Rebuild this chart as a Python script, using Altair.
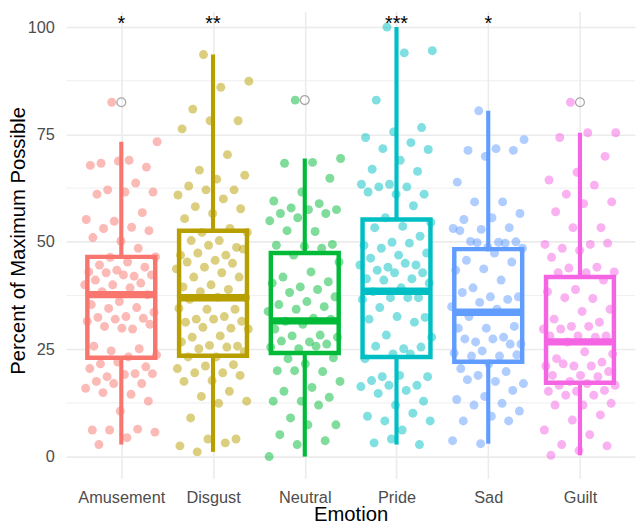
import altair as alt
import pandas as pd

emotions = ["Amusement", "Disgust", "Neutral", "Pride", "Sad", "Guilt"]
colors = ["#F8766D", "#B79F00", "#00BA38", "#00BFC4", "#619CFF", "#F564E3"]

# box-plot summaries
q1 = [23.0, 23.5, 24.1, 23.2, 22.1, 17.2]
median = [37.7, 37.0, 31.6, 38.5, 33.6, 26.7]
q3 = [46.5, 52.6, 47.4, 55.2, 48.3, 41.8]
whisker_lo = [2.8, 1.1, 0.0, 2.8, 3.0, 0.3]
whisker_hi = [73.3, 93.6, 69.4, 100.0, 80.5, 75.4]
outliers = [82.5, None, 83.0, None, None, 82.5]
stars = ["*", "**", "", "***", "*", ""]
minor_breaks = [12.5, 37.5, 62.5, 87.5]
major_breaks = [0, 25, 50, 75, 100]

amusement = [82.5, 73.3, 69, 68.3, 67.4, 68.8, 67.8, 63.7, 62.1, 61.6, 61.6, 61.1, 56.8, 54.8, 55.2, 53.4,
             53.1, 52.6, 50.2, 51, 48.5, 46.4, 46.5, 45.3, 44.6, 44.1, 43.4, 43, 42, 42.8, 42.3, 42.3, 41.1,
             40.4, 40, 40, 39.3, 38.4, 37.7, 36.1, 35.4, 34.7, 34.5, 33.6, 32.6, 32.4, 32.2, 32, 31.5, 29.7,
             30.3, 30.8, 29.9, 25.7, 25.1, 24.6, 23.7, 23.2, 21.6, 20.9, 22, 20.5, 19.3, 18.6, 19.3, 19.1,
             17.5, 17, 17, 15.9, 14.5, 14.9, 12.9, 10.6, 6.2, 6.4, 6.2, 5.7, 4.4, 2.8]
disgust = [93.6, 87.4, 86, 80.9, 78.2, 78.2, 76.3, 70.3, 66.7, 65.5, 64.6, 63, 62.1, 62.1, 60.9, 60, 58.2,
           57.7, 56.6, 55.4, 53.1, 52.2, 52.2, 50.3, 50.3, 48.7, 49.2, 46.9, 46.9, 47.4, 48.3, 45.7, 45.3, 45,
           44.1, 43.7, 42.8, 41.8, 41.8, 40, 39.5, 38.9, 38.4, 37, 37.1, 36.6, 34.3, 34.3, 34.5, 32.6, 32,
           31.5, 32, 31.3, 29.9, 30.1, 29.7, 28.1, 27.8, 25.7, 25.9, 26.7, 25.5, 25.1, 24.4, 23.2, 23.2, 21.4,
           21.1, 20.5, 19.5, 19.5, 18.9, 17.7, 17.5, 15.2, 14, 12.9, 12.4, 9, 4.1, 4.1, 2.5, 3.2, 1.1]
neutral = [83, 69.4, 68.5, 68.3, 64.8, 61.6, 59.5, 58.9, 57.9, 57.5, 57.5, 56.6, 56.6, 55.6, 54.9, 52.4, 52.6,
           49.4, 49, 49.2, 48.5, 46.9, 45.3, 43, 41.8, 40.7, 39.5, 40.4, 38.9, 38.2, 37.2, 36.1, 35.4, 34.9,
           34.3, 33.8, 32.2, 31.5, 32, 30.8, 29.7, 28.3, 28.1, 27.8, 26.7, 26.9, 26.2, 25.1, 25.5, 25.7, 22.8,
           23, 21.6, 20, 19.8, 20, 17.5, 16.1, 15.2, 13.8, 12.9, 12.9, 12, 9, 7.4, 7.4, 5.1, 3.7, 2.8, 0]
pride = [100, 94.5, 94, 83, 76.6, 75.6, 74.3, 73.1, 71.7, 71.5, 69, 66.9, 66.4, 63.4, 63.4, 62.8, 62.8, 61.1,
         61.1, 61.6, 58.4, 55.6, 54.5, 53.6, 53.3, 51.3, 49.9, 49.2, 49.7, 48.5, 47.4, 46.9, 46.2, 44.6, 44.1,
         44.6, 45, 43.4, 42.8, 42.8, 41.4, 41.4, 41.1, 40.4, 39.3, 38.4, 37, 37, 36.6, 37, 34.7, 32.4, 32.6,
         32, 31.3, 28.3, 27.8, 25.1, 25.7, 25.5, 23.9, 22.8, 23.9, 18.6, 18.6, 18.9, 17.7, 16.6, 16.6, 16.3,
         15.4, 14.7, 12.9, 12, 9.4, 10.1, 8.3, 8.3, 6.2, 3.2, 2.8, 4.1]
sad = [80.5, 73.8, 71.7, 71.3, 71.3, 69.9, 63.9, 59.3, 59.3, 56.6, 55.6, 55.2, 53.3, 52.9, 53.1, 49.9, 50.1,
       50, 48.7, 52.6, 49.7, 49.8, 48.5, 47.4, 45.7, 45.3, 43.7, 43.4, 41.1, 39.3, 37.2, 37.2, 38.2, 36.6,
       35.9, 34.9, 34.3, 32.6, 30.3, 29.9, 29.9, 27.8, 26.7, 26.2, 27.4, 27.4, 26.2, 24.6, 24.1, 23.4, 23.4,
       23.7, 21.6, 20.5, 19.8, 18.9, 17, 17.5, 17.9, 15.4, 14, 13.3, 12.4, 12, 10.6, 9.4, 8.3, 8.3, 3, 3.7]
guilt = [82.5, 75.4, 75.4, 74.3, 69.9, 66.2, 64.4, 63.2, 61.1, 59.3, 58.9, 57, 53.3, 53.3, 49.4, 49.4, 48.5,
         49.7, 48, 46.4, 44.1, 43.9, 43, 42.8, 42.8, 41.1, 38.9, 38.4, 36.8, 37, 34.3, 33.8, 32, 31.3, 30.3,
         29.7, 30.3, 29.7, 28.1, 28.1, 28.1, 27.8, 26.7, 23.9, 24.4, 22.8, 22, 21.1, 21.1, 21.1, 21.6, 19.8,
         18.9, 18.9, 18.6, 17.5, 16.6, 17, 16.6, 15.4, 15.2, 15.2, 14.3, 14.3, 12.4, 12, 12, 9.7, 8.5, 6.2,
         5.1, 2.8, 2.5, 1.4, 0.3]

groups = [amusement, disgust, neutral, pride, sad, guilt]

# ---- tables built from the arrays ----
summary = pd.DataFrame({
    "emotion": emotions, "pos": list(range(1, 7)),
    "q1": q1, "med": median, "q3": q3, "lo": whisker_lo, "hi": whisker_hi, "star": stars,
})
rows = []
for k, (name, vals) in enumerate(zip(emotions, groups)):
    for i, v in enumerate(vals):
        rows.append({"emotion": name, "pos": k + 1, "value": v, "idx": i})
points = pd.DataFrame(rows)
out_df = pd.DataFrame([{"emotion": e, "pos": k + 1, "value": o}
                       for k, (e, o) in enumerate(zip(emotions, outliers)) if o is not None])
minor_df = pd.DataFrame({"v": minor_breaks})

FONT = "Liberation Sans"
label_expr = "[" + ",".join("'%s'" % e for e in emotions) + "][datum.value - 1]"

xscale = alt.Scale(domain=[0.4, 6.6], nice=False, zero=False)
yscale = alt.Scale(domain=[-5.06, 103.68], nice=False, zero=False)
cscale = alt.Scale(domain=emotions, range=colors)

xaxis = alt.Axis(values=[1, 2, 3, 4, 5, 6], labelExpr=label_expr, grid=True, gridColor="#EBEBEB",
                 gridWidth=1.6, domain=False, ticks=False, tickSize=0, labelFontSize=16.5,
                 labelColor="#4D4D4D", labelFont=FONT, labelBaseline="alphabetic", labelPadding=24,
                 titleFont=FONT, titleFontSize=20.5, titleFontWeight="normal", titleColor="#000000",
                 titleBaseline="alphabetic", titleY=43)
yaxis = alt.Axis(values=major_breaks, grid=True, gridColor="#EBEBEB", gridWidth=1.6, domain=False,
                 ticks=False, tickSize=0, labelFontSize=16.5, labelColor="#4D4D4D", labelFont=FONT,
                 labelPadding=12, labelBaseline="middle",
                 titleFont=FONT, titleFontSize=20.5, titleFontWeight="normal", titleColor="#000000",
                 titleBaseline="alphabetic", titleX=-42, titleY=232, titleAngle=270)


def X(field):
    return alt.X(field, type="quantitative", scale=xscale, axis=xaxis, title="Emotion")


def Y(field):
    return alt.Y(field, type="quantitative", scale=yscale, axis=yaxis, title="Percent of Maximum Possible")


col = alt.Color("emotion:N", scale=cscale, legend=None)

minor = alt.Chart(minor_df).mark_rule(color="#EBEBEB", strokeWidth=0.8).encode(y=Y("v"))

base = alt.Chart(summary).transform_calculate(x_lo="datum.pos - 0.37", x_hi="datum.pos + 0.37",
                                              star_y="100")

whisk_up = base.mark_rule(strokeWidth=4.2).encode(x=X("pos"), y=Y("q3"), y2="hi", color=col)
whisk_dn = base.mark_rule(strokeWidth=4.2).encode(x=X("pos"), y=Y("lo"), y2="q1", color=col)
box = base.mark_rect(fill="white", strokeWidth=4.5).encode(
    x=X("x_lo"), x2="x_hi", y=Y("q1"), y2="q3", stroke=alt.Stroke("emotion:N", scale=cscale, legend=None))
med = base.mark_rule(strokeWidth=7.5, strokeCap="butt").encode(
    x=X("x_lo"), x2="x_hi", y=Y("med"), color=col)

outl = alt.Chart(out_df).mark_point(filled=False, color="#A8A8A8", size=80, strokeWidth=1.3,
                                    opacity=1).encode(x=X("pos"), y=Y("value"))

pts = alt.Chart(points).transform_calculate(
    xj="datum.pos + ((datum.idx * 0.6180339887 + 0.37) % 1 - 0.5) * 0.8"
).mark_circle(size=82, opacity=0.5).encode(x=X("xj"), y=Y("value"), color=col)

txt = base.mark_text(fontSize=20, baseline="alphabetic", font=FONT, color="#000000", dy=3).encode(
    x=X("pos"), y=Y("star_y"), text="star:N")

chart = alt.layer(minor, whisk_up, whisk_dn, box, med, outl, pts, txt).properties(
    width=576, height=473,
    padding={"left": 59, "top": 0, "right": 1, "bottom": 48},
    autosize=alt.AutoSizeParams(type="none"),
    background="white",
).configure_view(strokeWidth=0)

chart.save("out.html", embed_options={"renderer": "svg", "actions": False})
